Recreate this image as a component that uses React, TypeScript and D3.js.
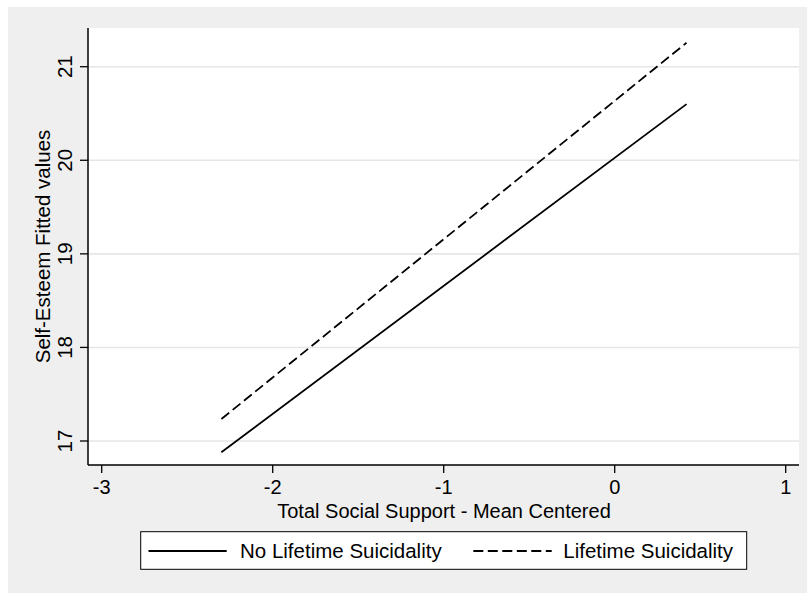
import * as d3 from "d3";

// fitted lines
const xValues = [-2.3, 0.42];
const noSuicidality = [16.88, 20.6];
const lifetimeSuicidality = [17.235, 21.256];
const seriesNames = ["No Lifetime Suicidality", "Lifetime Suicidality"];
const xTicks = [-3, -2, -1, 0, 1];
const yTicks = [17, 18, 19, 20, 21];

const W = 808;
const H = 594;
const font = "'Liberation Sans', Arial, Helvetica, sans-serif";

const plot = { left: 88, right: 799, top: 28, bottom: 465 };

const App = () => {
  const x = d3.scaleLinear().domain([-3, 1]).range([101.7, 785.7]);
  const y = d3.scaleLinear().domain([17, 21]).range([441, 66.7]);

  const line = d3
    .line<number>()
    .x((d, i) => x(xValues[i]))
    .y((d) => y(d));

  const series = [
    { name: seriesNames[0], values: noSuicidality, dash: null },
    { name: seriesNames[1], values: lifetimeSuicidality, dash: "10,4.5" },
  ];

  const legendItems = [
    { x0: 148.5, x1: 226.7, tx: 240 },
    { x0: 473.3, x1: 551.7, tx: 563.3 },
  ];

  return (
    <svg
      width={W}
      height={H}
      style={{ position: "absolute", left: 0, top: 0 }}
      fontFamily={font}
    >
      {/* outer background */}
      <rect x={8} y={7} width={799} height={586} fill="#efefef" />
      {/* plot region */}
      <rect
        x={plot.left}
        y={plot.top}
        width={plot.right - plot.left}
        height={plot.bottom - plot.top}
        fill="#ffffff"
      />

      {/* grid lines */}
      {yTicks.map((t) => (
        <line
          key={"g" + t}
          x1={plot.left}
          x2={plot.right}
          y1={y(t)}
          y2={y(t)}
          stroke="#e6e6e6"
          strokeWidth={1.6}
        />
      ))}

      {/* fitted lines */}
      {series.map((s) => (
        <path
          key={s.name}
          d={line(s.values) || ""}
          fill="none"
          stroke="#000"
          strokeWidth={1.8}
          strokeDasharray={s.dash || undefined}
        />
      ))}

      {/* axes */}
      <line x1={plot.left} x2={plot.left} y1={plot.top} y2={plot.bottom} stroke="#000" strokeWidth={1.5} />
      <line x1={plot.left} x2={plot.right} y1={plot.bottom} y2={plot.bottom} stroke="#000" strokeWidth={1.5} />

      {yTicks.map((t) => (
        <g key={"y" + t}>
          <line x1={80} x2={plot.left} y1={y(t)} y2={y(t)} stroke="#000" strokeWidth={1.3} />
          <text
            transform={`translate(71.5,${y(t)}) rotate(-90)`}
            textAnchor="middle"
            fontSize={20.5}
            fill="#000"
          >
            {t}
          </text>
        </g>
      ))}

      {xTicks.map((t) => (
        <g key={"x" + t}>
          <line x1={x(t)} x2={x(t)} y1={plot.bottom} y2={473} stroke="#000" strokeWidth={1.3} />
          <text x={x(t)} y={494} textAnchor="middle" fontSize={20} fill="#000">
            {t}
          </text>
        </g>
      ))}

      <text x={(plot.left + plot.right) / 2 + 0.5} y={518} textAnchor="middle" fontSize={20} fill="#000">
        Total Social Support - Mean Centered
      </text>
      <text
        transform={`translate(50,${(plot.top + plot.bottom) / 2}) rotate(-90)`}
        textAnchor="middle"
        fontSize={20.5}
        fill="#000"
      >
        Self-Esteem Fitted values
      </text>

      {/* legend */}
      <rect x={140.7} y={531.7} width={606} height={37.6} fill="#fff" stroke="#000" strokeWidth={1} />
      {series.map((s, i) => (
        <g key={"l" + s.name}>
          <line
            x1={legendItems[i].x0}
            x2={legendItems[i].x1}
            y1={551}
            y2={551}
            stroke="#000"
            strokeWidth={1.8}
            strokeDasharray={s.dash || undefined}
          />
          <text x={legendItems[i].tx} y={558} fontSize={20.5} fill="#000">
            {s.name}
          </text>
        </g>
      ))}
    </svg>
  );
};

export default App;
